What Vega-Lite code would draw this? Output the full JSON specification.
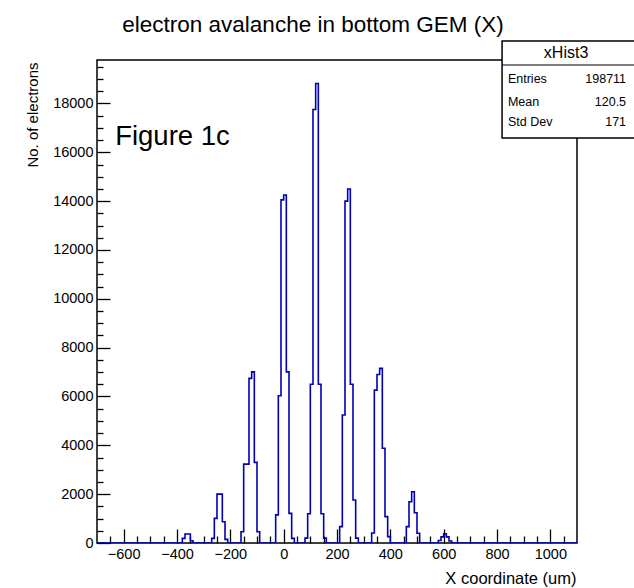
{
  "$schema": "https://vega.github.io/schema/vega-lite/v6.json",
  "autosize": {"type": "none"},
  "padding": {"left": 97, "top": 60, "right": 57, "bottom": 45},
  "width": 480,
  "height": 483,
  "background": "white",
  "title": {
    "text": "electron avalanche in bottom GEM (X)",
    "frame": "group",
    "anchor": "middle",
    "dx": -24,
    "dy": 22,
    "offset": 8,
    "baseline": "alphabetic",
    "font": "Liberation Sans",
    "fontSize": 22.5,
    "fontWeight": "normal",
    "color": "black"
  },
  "config": {
    "view": {"stroke": "black", "strokeWidth": 1.5},
    "axis": {"grid": false, "domain": false, "labelFont": "Liberation Sans", "titleFont": "Liberation Sans", "labelColor": "black", "titleColor": "black", "tickColor": "black", "tickWidth": 1.3}
  },
  "datasets": {
    "hist": [
      {"x": -700, "n": 0},
      {"x": -380, "n": 190}, {"x": -370, "n": 370}, {"x": -360, "n": 370}, {"x": -350, "n": 90}, {"x": -340, "n": 0},
      {"x": -270, "n": 190}, {"x": -260, "n": 1010}, {"x": -250, "n": 2000}, {"x": -240, "n": 2000}, {"x": -230, "n": 870}, {"x": -220, "n": 150}, {"x": -210, "n": 0},
      {"x": -160, "n": 460}, {"x": -150, "n": 3230}, {"x": -140, "n": 3230}, {"x": -130, "n": 6740}, {"x": -120, "n": 7010}, {"x": -110, "n": 3300}, {"x": -100, "n": 460}, {"x": -90, "n": 0},
      {"x": -30, "n": 1150}, {"x": -20, "n": 6030}, {"x": -10, "n": 14050}, {"x": 0, "n": 14250}, {"x": 10, "n": 7010}, {"x": 20, "n": 1215}, {"x": 30, "n": 190}, {"x": 40, "n": 0},
      {"x": 80, "n": 200}, {"x": 90, "n": 1200}, {"x": 100, "n": 6500}, {"x": 110, "n": 17750}, {"x": 120, "n": 18820}, {"x": 130, "n": 6500}, {"x": 140, "n": 1200}, {"x": 150, "n": 200}, {"x": 160, "n": 0},
      {"x": 210, "n": 670}, {"x": 220, "n": 5240}, {"x": 230, "n": 14000}, {"x": 240, "n": 14500}, {"x": 250, "n": 6500}, {"x": 260, "n": 1760}, {"x": 270, "n": 200}, {"x": 280, "n": 0},
      {"x": 330, "n": 410}, {"x": 340, "n": 6260}, {"x": 350, "n": 6900}, {"x": 360, "n": 7150}, {"x": 370, "n": 3880}, {"x": 380, "n": 1080}, {"x": 390, "n": 260}, {"x": 400, "n": 0},
      {"x": 460, "n": 670}, {"x": 470, "n": 1690}, {"x": 480, "n": 2100}, {"x": 490, "n": 1240}, {"x": 500, "n": 400}, {"x": 510, "n": 0},
      {"x": 580, "n": 100}, {"x": 590, "n": 250}, {"x": 600, "n": 380}, {"x": 610, "n": 250}, {"x": 620, "n": 80}, {"x": 630, "n": 0},
      {"x": 1100, "n": 0}
    ],
    "one": [{}]
  },
  "resolve": {"axis": {"x": "independent", "y": "independent"}},
  "layer": [
    {
      "data": {"name": "hist"},
      "mark": {"type": "line", "interpolate": "step-after", "color": "#0000b0", "strokeWidth": 1.6, "clip": true},
      "encoding": {
        "x": {"field": "x", "type": "quantitative", "scale": {"domain": [-700, 1100], "nice": false, "zero": false},
          "axis": {"orient": "bottom", "values": [-600, -400, -200, 0, 200, 400, 600, 800, 1000], "format": "d", "ticks": false, "labelFontSize": 14.5, "labelPadding": 4, "labelBaseline": "top", "labelFlush": false,
            "title": "X coordinate (um)", "titleFontSize": 16.5, "titleFontWeight": "normal", "titleX": 479, "titleY": 40, "titleAlign": "right", "titleBaseline": "alphabetic"}},
        "y": {"field": "n", "type": "quantitative", "scale": {"domain": [0, 19780], "nice": false},
          "axis": {"orient": "left", "values": [0, 2000, 4000, 6000, 8000, 10000, 12000, 14000, 16000, 18000], "ticks": false, "labelFontSize": 14.5, "labelPadding": 4, "labelFlush": false, "format": "d",
            "title": "No. of electrons", "titleFontSize": 15, "titleFontWeight": "normal", "titleX": -65, "titleY": 2, "titleAngle": -90, "titleAlign": "right", "titleBaseline": "middle"}}
      }
    },
    {
      "data": {"name": "hist"},
      "mark": {"type": "point", "opacity": 0},
      "encoding": {
        "x": {"field": "x", "type": "quantitative", "axis": {"orient": "bottom", "values": [-600, -400, -200, 0, 200, 400, 600, 800, 1000], "labels": false, "tickSize": -14, "title": null}},
        "y": {"field": "n", "type": "quantitative", "axis": {"orient": "left", "values": [0, 2000, 4000, 6000, 8000, 10000, 12000, 14000, 16000, 18000], "labels": false, "tickSize": -13, "title": null}}
      }
    },
    {
      "data": {"name": "hist"},
      "mark": {"type": "point", "opacity": 0},
      "encoding": {
        "x": {"field": "x", "type": "quantitative", "axis": {"orient": "bottom", "values": [-650, -550, -500, -450, -350, -300, -250, -150, -100, -50, 50, 100, 150, 250, 300, 350, 450, 500, 550, 650, 700, 750, 850, 900, 950, 1050], "labels": false, "tickSize": -7, "title": null}},
        "y": {"field": "n", "type": "quantitative", "axis": {"orient": "left", "values": [500, 1000, 1500, 2500, 3000, 3500, 4500, 5000, 5500, 6500, 7000, 7500, 8500, 9000, 9500, 10500, 11000, 11500, 12500, 13000, 13500, 14500, 15000, 15500, 16500, 17000, 17500, 18500, 19000, 19500], "labels": false, "tickSize": -6, "title": null}}
      }
    },
    {
      "data": {"name": "one"},
      "mark": {"type": "text", "font": "Liberation Sans", "fontSize": 27.5, "align": "left", "baseline": "alphabetic", "color": "black", "clip": false},
      "encoding": {
        "x": {"datum": -632, "type": "quantitative", "axis": null},
        "y": {"datum": 16300, "type": "quantitative", "axis": null},
        "text": {"value": "Figure 1c"}
      }
    },
    {
      "data": {"name": "one"},
      "mark": {"type": "rect", "fill": "white", "stroke": "black", "strokeWidth": 1.5, "clip": false},
      "encoding": {
        "x": {"datum": 819, "type": "quantitative", "axis": null},
        "x2": {"datum": 1317},
        "y": {"datum": 20560, "type": "quantitative", "axis": null},
        "y2": {"datum": 16590}
      }
    },
    {
      "data": {"name": "one"},
      "mark": {"type": "rule", "stroke": "black", "strokeWidth": 1.2, "clip": false},
      "encoding": {
        "x": {"datum": 819, "type": "quantitative", "axis": null},
        "x2": {"datum": 1317},
        "y": {"datum": 19575, "type": "quantitative", "axis": null}
      }
    },
    {
      "data": {"name": "one"},
      "mark": {"type": "text", "font": "Liberation Sans", "fontSize": 16, "align": "center", "baseline": "middle", "color": "black", "clip": false},
      "encoding": {
        "x": {"datum": 1059, "type": "quantitative", "axis": null},
        "y": {"datum": 20070, "type": "quantitative", "axis": null},
        "text": {"value": "xHist3"}
      }
    },
    {
      "data": {"name": "one"},
      "mark": {"type": "text", "font": "Liberation Sans", "fontSize": 12.5, "align": "left", "baseline": "middle", "color": "black", "clip": false},
      "encoding": {
        "x": {"datum": 841, "type": "quantitative", "axis": null},
        "y": {"datum": 19000, "type": "quantitative", "axis": null},
        "text": {"value": "Entries"}
      }
    },
    {
      "data": {"name": "one"},
      "mark": {"type": "text", "font": "Liberation Sans", "fontSize": 12.5, "align": "left", "baseline": "middle", "color": "black", "clip": false},
      "encoding": {
        "x": {"datum": 841, "type": "quantitative", "axis": null},
        "y": {"datum": 18060, "type": "quantitative", "axis": null},
        "text": {"value": "Mean"}
      }
    },
    {
      "data": {"name": "one"},
      "mark": {"type": "text", "font": "Liberation Sans", "fontSize": 12.5, "align": "left", "baseline": "middle", "color": "black", "clip": false},
      "encoding": {
        "x": {"datum": 841, "type": "quantitative", "axis": null},
        "y": {"datum": 17240, "type": "quantitative", "axis": null},
        "text": {"value": "Std Dev"}
      }
    },
    {
      "data": {"name": "one"},
      "mark": {"type": "text", "font": "Liberation Sans", "fontSize": 12.5, "align": "right", "baseline": "middle", "color": "black", "clip": false},
      "encoding": {
        "x": {"datum": 1284, "type": "quantitative", "axis": null},
        "y": {"datum": 19000, "type": "quantitative", "axis": null},
        "text": {"value": "198711"}
      }
    },
    {
      "data": {"name": "one"},
      "mark": {"type": "text", "font": "Liberation Sans", "fontSize": 12.5, "align": "right", "baseline": "middle", "color": "black", "clip": false},
      "encoding": {
        "x": {"datum": 1284, "type": "quantitative", "axis": null},
        "y": {"datum": 18060, "type": "quantitative", "axis": null},
        "text": {"value": "120.5"}
      }
    },
    {
      "data": {"name": "one"},
      "mark": {"type": "text", "font": "Liberation Sans", "fontSize": 12.5, "align": "right", "baseline": "middle", "color": "black", "clip": false},
      "encoding": {
        "x": {"datum": 1284, "type": "quantitative", "axis": null},
        "y": {"datum": 17240, "type": "quantitative", "axis": null},
        "text": {"value": "171"}
      }
    }
  ]
}
